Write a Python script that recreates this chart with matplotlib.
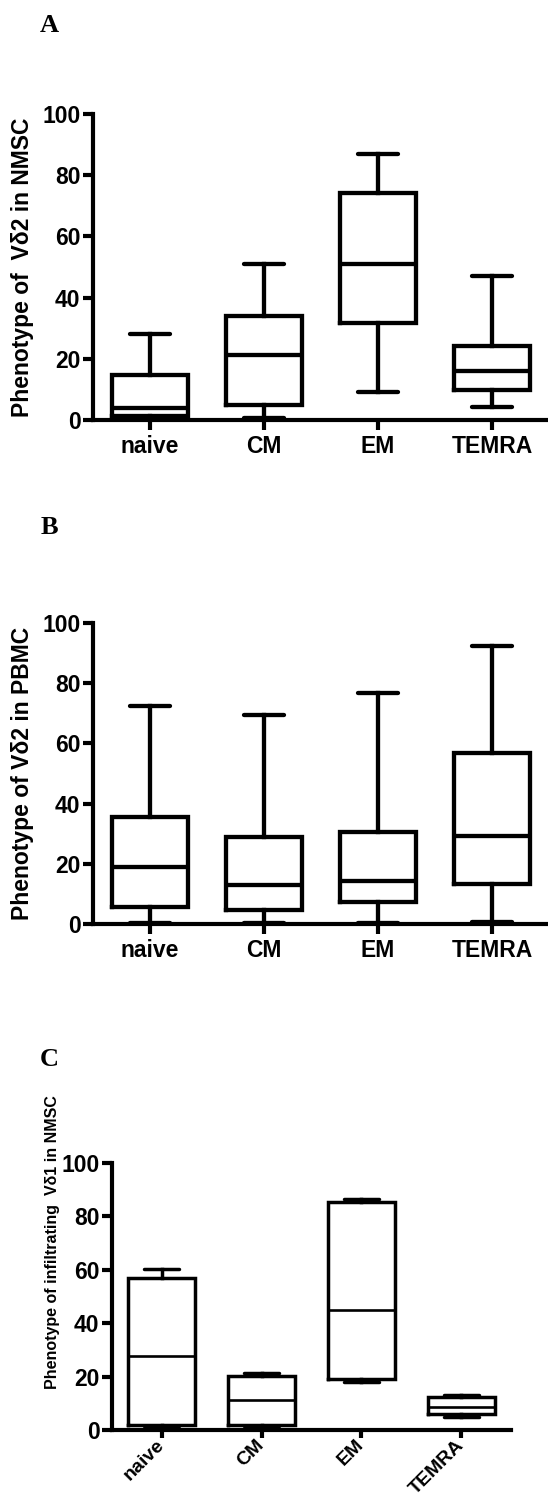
import matplotlib
matplotlib.use('Agg')
import matplotlib.pyplot as plt
from matplotlib import font_manager

plt.rcParams['font.family'] = ['Liberation Sans', 'DejaVu Sans']
plt.rcParams['font.weight'] = 'bold'
plt.rcParams['axes.labelweight'] = 'bold'

categories = ['naive', 'CM', 'EM', 'TEMRA']
yticks = [0, 20, 40, 60, 80, 100]

# Panel A: phenotype of Vδ2 in NMSC
a_min = [0.4, 0.8, 9.1, 4.3]
a_q1 = [1.3, 4.9, 31.7, 9.8]
a_med = [3.9, 21.4, 50.9, 15.9]
a_q3 = [14.7, 34.0, 74.2, 24.2]
a_max = [28.2, 51.1, 86.9, 46.9]

# Panel B: phenotype of Vδ2 in PBMC
b_min = [0.4, 0.4, 0.2, 0.8]
b_q1 = [5.7, 4.8, 7.3, 13.3]
b_med = [19.0, 13.1, 14.2, 29.3]
b_q3 = [35.7, 28.9, 30.5, 56.7]
b_max = [72.5, 69.6, 76.7, 92.3]

# Panel C: phenotype of infiltrating Vδ1 in NMSC
c_min = [1.6, 1.5, 18.0, 5.0]
c_q1 = [1.9, 1.9, 19.0, 5.9]
c_med = [27.8, 11.3, 45.1, 8.8]
c_q3 = [57.0, 20.3, 85.5, 12.2]
c_max = [60.2, 21.3, 86.5, 13.2]

# the C y-label is squeezed in the original, use a narrow face if there is one
installed = {f.name for f in font_manager.fontManager.ttflist}
if 'Liberation Sans Narrow' in installed:
    c_label_font = dict(family=['Liberation Sans Narrow', 'DejaVu Sans'], fontsize=13.5)
else:
    c_label_font = dict(fontsize=11.5)

W, H = 548, 1506
fig = plt.figure(figsize=(W / 100, H / 100), dpi=100)


def px_axes(left, top, right, bottom):
    # axes rectangle from pixel edges
    return fig.add_axes([left / W, 1 - bottom / H, (right - left) / W, (bottom - top) / H])


def draw_panel(ax, mins, q1s, meds, q3s, maxs, lw, med_lw):
    stats = []
    for lab, lo, q1, med, q3, hi in zip(categories, mins, q1s, meds, q3s, maxs):
        stats.append(dict(label=lab, whislo=lo, q1=q1, med=med, q3=q3, whishi=hi))
    line = dict(color='k', linewidth=lw, solid_joinstyle='miter')
    ax.bxp(stats, positions=range(len(categories)), widths=0.67, capwidths=0.35,
           showfliers=False, boxprops=line, whiskerprops=line,
           capprops=dict(color='k', linewidth=lw, solid_capstyle='round'),
           medianprops=dict(color='k', linewidth=med_lw))
    ax.set_xlim(-0.5, 3.5)
    ax.set_ylim(0, 100)
    ax.set_yticks(yticks)
    for side in ['top', 'right']:
        ax.spines[side].set_visible(False)
    for side in ['left', 'bottom']:
        ax.spines[side].set_linewidth(3.0)
    ax.tick_params(axis='y', length=7, width=3.0, pad=2, labelsize=16.5)
    ax.tick_params(axis='x', length=7.5, width=3.0, pad=3, labelsize=16.5)


ax_a = px_axes(93, 114, 549, 420)
draw_panel(ax_a, a_min, a_q1, a_med, a_q3, a_max, 3.1, 3.1)
ax_a.set_ylabel('Phenotype of  Vδ2 in NMSC', fontsize=16.5, fontweight='bold', va='center')
ax_a.yaxis.set_label_coords(-0.154, 0.5)

ax_b = px_axes(93, 623, 549, 924)
draw_panel(ax_b, b_min, b_q1, b_med, b_q3, b_max, 3.1, 3.1)
ax_b.set_ylabel('Phenotype of Vδ2 in PBMC', fontsize=16.5, fontweight='bold', va='center')
ax_b.yaxis.set_label_coords(-0.154, 0.5)

ax_c = px_axes(112, 1163, 511, 1430)
draw_panel(ax_c, c_min, c_q1, c_med, c_q3, c_max, 2.5, 1.9)
ax_c.tick_params(axis='x', length=6, pad=3, labelsize=14)
ax_c.set_xticks(range(len(categories)), categories, rotation=45,
                ha='right', va='center', rotation_mode='anchor')
ax_c.set_ylabel('Phenotype of infiltrating  Vδ1 in NMSC', fontweight='bold',
                va='center', **c_label_font)
ax_c.yaxis.set_label_coords(-0.150, 0.704)

# panel letters
for letter, y in [('A', 25), ('B', 528), ('C', 1059)]:
    fig.text(49 / W, 1 - y / H, letter, family='Liberation Serif', fontweight='bold',
             fontsize=19, ha='center', va='center')

fig.savefig('out.png', dpi=100)
